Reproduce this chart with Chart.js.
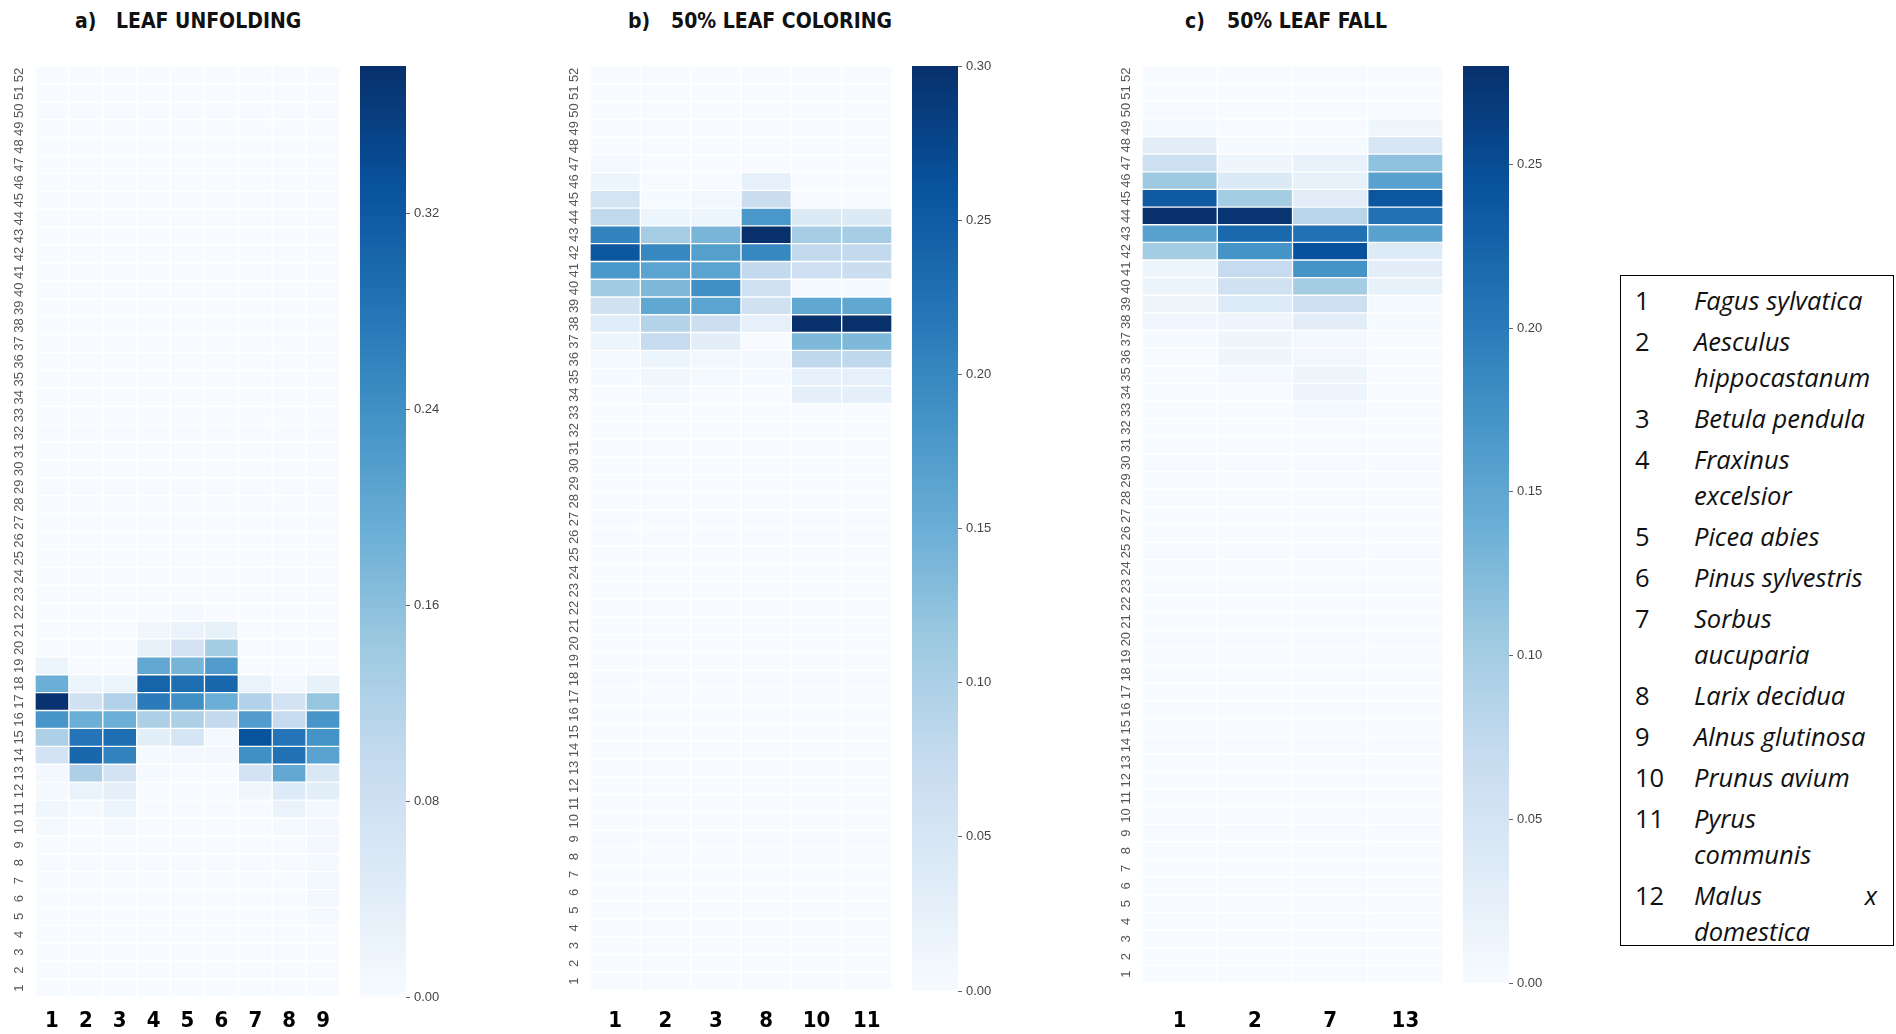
<!DOCTYPE html>
<html><head><meta charset="utf-8">
<script src="https://cdn.jsdelivr.net/npm/chart.js@4/dist/chart.umd.min.js"></script>
<style>
body{margin:0;width:1896px;height:1034px;background:#fff;position:relative;overflow:hidden;font-family:'Liberation Sans',Arial,sans-serif}
canvas{position:absolute}
.t{position:absolute;top:7px;font-family:'DejaVu Sans Condensed','DejaVu Sans',sans-serif;font-weight:bold;font-size:21px;color:#111;white-space:pre;line-height:28px}
#legend{position:absolute;left:1620px;top:275px;width:274px;height:671px;border:1.5px solid #000;box-sizing:border-box;padding-top:6px;font-family:'Open Sans',sans-serif;font-size:25.5px;color:#111}
.e{position:relative;margin-bottom:5px}
.e .n{position:absolute;left:14px;top:0;line-height:36px}
.e .m{margin-left:73px;font-style:italic;line-height:36px}
.e .l{display:flex;justify-content:space-between;width:183px}
</style></head>
<body>
<div class="t" style="left:75px">a)</div><div class="t" style="left:116px">LEAF UNFOLDING</div>
<div class="t" style="left:628px">b)</div><div class="t" style="left:671px">50% LEAF COLORING</div>
<div class="t" style="left:1185px">c)</div><div class="t" style="left:1227px">50% LEAF FALL</div>

<canvas id="ha" width="340" height="981" style="left:0px;top:66px"></canvas>
<canvas id="ca" width="100" height="951" style="left:360px;top:56px"></canvas>
<canvas id="hb" width="337" height="974" style="left:555px;top:66px"></canvas>
<canvas id="cb" width="100" height="945" style="left:912px;top:56px"></canvas>
<canvas id="hc" width="336" height="967" style="left:1107px;top:66px"></canvas>
<canvas id="cc" width="100" height="937" style="left:1463px;top:56px"></canvas>
<div id="legend"></div>

<script>
// ---------- DATA ----------
const WEEKS = [1,2,3,4,5,6,7,8,9,10,11,12,13,14,15,16,17,18,19,20,21,22,23,24,25,26,27,28,29,30,31,32,33,34,35,36,37,38,39,40,41,42,43,44,45,46,47,48,49,50,51,52];
const WEEK_LABELS = WEEKS.map(String);

// a) LEAF UNFOLDING – species columns
const SPECIES_A = ['1','2','3','4','5','6','7','8','9'];
const A_SP1 = [0,0,0,0,0,0,0,0,0,0.005,0.015,0.005,0.01, 0.07,0.125,0.23,0.375,0.19,0.02,0,0,0,0,0,0,0, 0,0,0,0,0,0,0,0,0,0,0,0,0, 0,0,0,0,0,0,0,0,0,0,0,0,0];
const A_SP2 = [0,0,0,0,0,0,0,0,0,0,0.005,0.025,0.125, 0.30,0.28,0.19,0.075,0.02,0,0,0,0,0,0,0,0, 0,0,0,0,0,0,0,0,0,0,0,0,0, 0,0,0,0,0,0,0,0,0,0,0,0,0];
const A_SP3 = [0,0,0,0,0,0,0,0,0,0.005,0.02,0.035,0.07, 0.26,0.29,0.19,0.12,0.02,0,0,0,0,0,0,0,0, 0,0,0,0,0,0,0,0,0,0,0,0,0, 0,0,0,0,0,0,0,0,0,0,0,0,0];
const A_SP4 = [0,0,0,0,0,0,0,0,0,0,0,0,0.005, 0.005,0.04,0.125,0.27,0.305,0.20,0.03,0.015,0,0,0,0,0, 0,0,0,0,0,0,0,0,0,0,0,0,0, 0,0,0,0,0,0,0,0,0,0,0,0,0];
const A_SP5 = [0,0,0,0,0,0,0,0,0,0,0,0,0, 0.01,0.065,0.125,0.24,0.29,0.18,0.07,0.025,0.005,0,0,0,0, 0,0,0,0,0,0,0,0,0,0,0,0,0, 0,0,0,0,0,0,0,0,0,0,0,0,0];
const A_SP6 = [0,0,0,0,0,0,0,0,0,0,0,0,0, 0.01,0.005,0.10,0.19,0.30,0.22,0.135,0.03,0,0,0,0,0, 0,0,0,0,0,0,0,0,0,0,0,0,0, 0,0,0,0,0,0,0,0,0,0,0,0,0];
const A_SP7 = [0,0,0,0,0,0,0,0,0,0,0,0.015,0.07, 0.24,0.33,0.22,0.12,0.025,0,0,0,0,0,0,0,0, 0,0,0,0,0,0,0,0,0,0,0,0,0, 0,0,0,0,0,0,0,0,0,0,0,0,0];
const A_SP8 = [0,0,0,0,0,0,0,0,0,0.005,0.025,0.05,0.20, 0.285,0.28,0.095,0.07,0.01,0,0,0,0,0,0,0,0, 0,0,0,0,0,0,0,0,0,0,0,0,0, 0,0,0,0,0,0,0,0,0,0,0,0,0];
const A_SP9 = [0,0,0,0,0.005,0.01,0.01,0.005,0.01,0.01,0.01,0.04,0.055, 0.21,0.235,0.23,0.15,0.03,0,0,0,0,0,0,0,0, 0,0,0,0,0,0,0,0,0,0,0,0,0, 0,0,0,0,0,0,0,0,0,0,0,0,0];

// b) 50% LEAF COLORING
const SPECIES_B = ['1','2','3','8','10','11'];
const B_SP1  = [0,0,0,0,0,0,0,0,0,0,0,0,0, 0,0,0,0,0,0,0,0,0,0,0,0,0, 0,0,0,0,0,0,0,0,0.003,0.005,0.015,0.035,0.06, 0.11,0.18,0.255,0.205,0.08,0.055,0.015,0.005,0,0,0,0,0];
const B_SP2  = [0,0,0,0,0,0,0,0,0,0,0,0,0, 0,0,0,0,0,0,0,0,0,0,0,0,0, 0,0,0,0,0,0,0,0.005,0.012,0.015,0.075,0.09,0.16, 0.135,0.165,0.20,0.105,0.015,0.003,0,0,0,0,0,0,0];
const B_SP3  = [0,0,0,0,0,0,0,0,0,0,0,0,0, 0,0,0,0,0,0,0,0,0,0,0,0,0, 0,0,0,0,0,0,0,0,0.005,0.01,0.03,0.066,0.165, 0.19,0.165,0.17,0.14,0.015,0.01,0,0,0,0,0,0,0];
const B_SP8  = [0,0,0,0,0,0,0,0,0,0,0,0,0, 0,0,0,0,0,0,0,0,0,0,0,0,0, 0,0,0,0,0,0,0,0,0.003,0.008,0,0.025,0.06, 0.06,0.078,0.20,0.30,0.18,0.068,0.025,0,0,0,0,0,0];
const B_SP10 = [0,0,0,0,0,0,0,0,0,0,0,0,0, 0,0,0,0,0,0,0,0,0,0,0,0,0, 0,0,0,0,0,0,0,0.028,0.025,0.082,0.135,0.30,0.16, 0.003,0.063,0.078,0.105,0.04,0,0,0,0,0,0,0,0];
const B_SP11 = [0,0,0,0,0,0,0,0,0,0,0,0,0, 0,0,0,0,0,0,0,0,0,0,0,0,0, 0,0,0,0,0,0,0,0.028,0.025,0.082,0.135,0.30,0.16, 0.003,0.068,0.078,0.105,0.04,0,0,0,0,0,0,0,0];

// c) 50% LEAF FALL
const SPECIES_C = ['1','2','7','13'];
const C_SP1  = [0,0,0,0,0,0,0,0,0,0,0,0,0, 0,0,0,0,0,0,0,0,0,0,0,0,0, 0,0,0,0,0,0,0,0,0,0,0.003,0.01,0.012, 0.016,0.015,0.10,0.155,0.28,0.235,0.105,0.06,0.028,0.005,0,0,0];
const C_SP2  = [0,0,0,0,0,0,0,0,0,0,0,0,0, 0,0,0,0,0,0,0,0,0,0,0,0,0, 0,0,0,0,0,0,0,0,0.005,0.012,0.012,0.013,0.037, 0.056,0.07,0.172,0.22,0.275,0.10,0.038,0.012,0.003,0,0,0,0];
const C_SP7  = [0,0,0,0,0,0,0,0,0,0,0,0,0, 0,0,0,0,0,0,0,0,0,0,0,0,0, 0,0,0,0,0,0,0.005,0.013,0.012,0.008,0.006,0.03,0.06, 0.10,0.172,0.245,0.21,0.082,0.03,0.022,0.02,0.003,0,0,0,0];
const C_SP13 = [0,0,0,0,0,0,0,0,0,0,0,0,0, 0,0,0,0,0,0,0,0,0,0,0,0,0, 0,0,0,0,0,0,0,0,0,0,0,0.003,0.004, 0.022,0.028,0.036,0.155,0.21,0.24,0.155,0.115,0.045,0.012,0,0,0];

// colour-bar ranges and ticks
const VMAX = {a:0.38, b:0.30, c:0.28};
const CBAR_STEP = {a:0.08, b:0.05, c:0.05};

const LEGEND = [
  ['1',['Fagus sylvatica']],
  ['2',['Aesculus','hippocastanum']],
  ['3',['Betula pendula']],
  ['4',['Fraxinus','excelsior']],
  ['5',['Picea abies']],
  ['6',['Pinus sylvestris']],
  ['7',['Sorbus','aucuparia']],
  ['8',['Larix decidua']],
  ['9',['Alnus glutinosa']],
  ['10',['Prunus avium']],
  ['11',['Pyrus','communis']],
  ['12',['Malus|x','domestica']]
];

// ---------- RENDERING ----------
const BLUES = ['#f7fbff','#deebf7','#c6dbef','#9ecae1','#6baed6','#4292c6','#2171b5','#08519c','#08306b'];
function hex(h){return [1,3,5].map(i=>parseInt(h.substr(i,2),16));}
const BL = BLUES.map(hex);
function blues(t){
  t = Math.max(0, Math.min(1, t));
  const p = t*8, i = Math.min(7, Math.floor(p)), f = p - i;
  const c = BL[i].map((v,k)=>Math.round(v + (BL[i+1][k]-v)*f));
  return `rgb(${c[0]},${c[1]},${c[2]})`;
}
Chart.defaults.font.family = "'Liberation Sans', Arial, sans-serif";
Chart.defaults.animation = false;

function makeHeat(id, species, cols, vmax, xPad){
  const datasets = WEEKS.map((w, wi) => ({
    label: 'week ' + w,
    data: species.map(() => 1),
    backgroundColor: cols.map(c => blues(c[wi] / vmax)),
    borderColor: 'rgba(255,255,255,0.6)',
    borderWidth: 1,
    borderSkipped: false,
    categoryPercentage: 1,
    barPercentage: 1
  }));
  new Chart(document.getElementById(id), {
    type: 'bar',
    data: {labels: species, datasets},
    options: {
      responsive: false,
      layout: {padding: 0},
      plugins: {legend: {display: false}, tooltip: {enabled: false}},
      scales: {
        x: {
          stacked: true,
          grid: {display: false}, border: {display: false},
          ticks: {font: {family: "'DejaVu Sans Condensed','DejaVu Sans',sans-serif", weight: 'bold', size: 22}, color: '#000', padding: xPad, maxRotation: 0},
          afterFit(s){ s.height = 50; s.paddingLeft = 0; s.paddingRight = 0; }
        },
        y: {
          stacked: true, min: 0, max: 52,
          grid: {display: false, drawTicks: false}, border: {display: false},
          afterBuildTicks(s){ s.ticks = WEEKS.map(w => ({value: w - 0.5})); },
          ticks: {autoSkip: false, minRotation: 90, maxRotation: 90, crossAlign: 'center', padding: 8,
                  font: {size: 13}, color: '#555', callback: (v, i) => WEEK_LABELS[i]},
          afterFit(s){ s.width = 35; s.paddingTop = 0; s.paddingBottom = 0; }
        }
      }
    }
  });
}

function makeBar(id, vmax, step){
  new Chart(document.getElementById(id), {
    type: 'bar',
    data: {labels: [''], datasets: [{
      data: [[0, vmax]],
      borderWidth: 0, categoryPercentage: 1, barPercentage: 1,
      backgroundColor: (ctx) => {
        const ch = ctx.chart; if (!ch.chartArea) return BLUES[4];
        const y = ch.scales.y;
        const g = ch.ctx.createLinearGradient(0, y.getPixelForValue(0), 0, y.getPixelForValue(vmax));
        BLUES.forEach((c, i) => g.addColorStop(i / 8, c));
        return g;
      }
    }]},
    options: {
      responsive: false,
      layout: {padding: {top: 10, bottom: 10, left: 0, right: 0}},
      plugins: {legend: {display: false}, tooltip: {enabled: false}},
      scales: {
        x: {display: false},
        y: {
          position: 'right', min: 0, max: vmax,
          border: {display: false},
          grid: {drawOnChartArea: false, drawTicks: true, tickLength: 4, color: '#666'},
          ticks: {stepSize: step, includeBounds: false, padding: 4, font: {size: 13}, color: '#444',
                  callback: v => Number(v).toFixed(2)},
          afterFit(s){ s.width = 54; s.paddingTop = 0; s.paddingBottom = 0; }
        }
      }
    }
  });
}

makeHeat('ha', SPECIES_A, [A_SP1,A_SP2,A_SP3,A_SP4,A_SP5,A_SP6,A_SP7,A_SP8,A_SP9], VMAX.a, 3);
makeHeat('hb', SPECIES_B, [B_SP1,B_SP2,B_SP3,B_SP8,B_SP10,B_SP11], VMAX.b, 10);
makeHeat('hc', SPECIES_C, [C_SP1,C_SP2,C_SP7,C_SP13], VMAX.c, 17);
makeBar('ca', VMAX.a, CBAR_STEP.a);
makeBar('cb', VMAX.b, CBAR_STEP.b);
makeBar('cc', VMAX.c, CBAR_STEP.c);

// legend box
const lg = document.getElementById('legend');
LEGEND.forEach(([num, lines]) => {
  const e = document.createElement('div'); e.className = 'e';
  const n = document.createElement('div'); n.className = 'n'; n.textContent = num; e.appendChild(n);
  const m = document.createElement('div'); m.className = 'm';
  lines.forEach(l => {
    const d = document.createElement('div');
    if (l.includes('|')) { d.className = 'l'; l.split('|').forEach(p => { const s = document.createElement('span'); s.textContent = p; d.appendChild(s); }); }
    else d.textContent = l;
    m.appendChild(d);
  });
  e.appendChild(m); lg.appendChild(e);
});
</script>
</body></html>
